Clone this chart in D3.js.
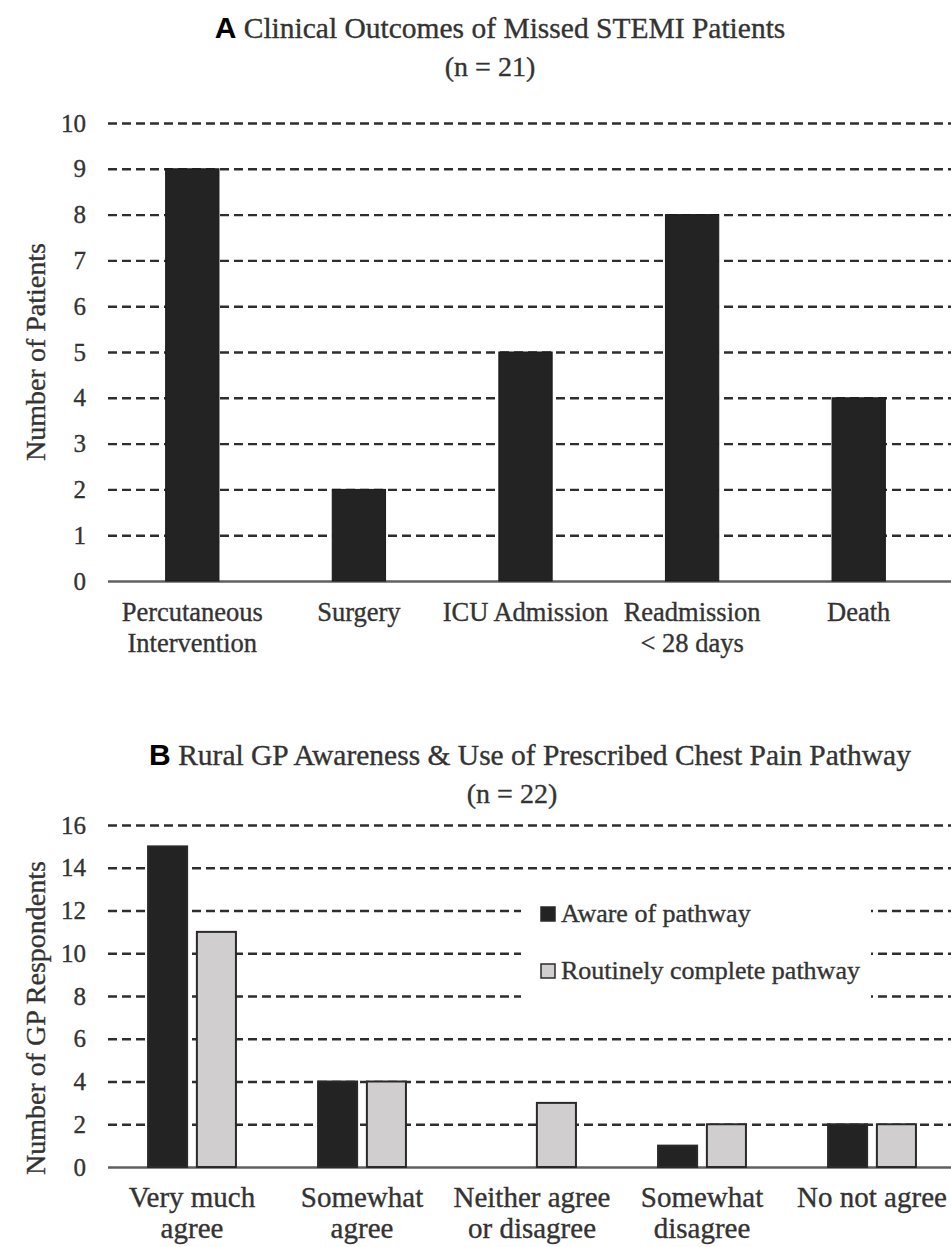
<!DOCTYPE html>
<html>
<head>
<meta charset="utf-8">
<script src="https://cdn.jsdelivr.net/npm/d3@7"></script>
<style>
  body { margin: 0; background: #fff; }
  text { font-family: "Liberation Serif", "Times New Roman", serif; fill: #333; stroke: #333; stroke-width: 0.35px; }
  .letter { font-family: "Liberation Sans", Arial, sans-serif; font-weight: bold; fill: #000; stroke: none; }
</style>
</head>
<body>
<div id="chart"></div>
<script>
// chart A data
var outcomeLabels = [["Percutaneous", "Intervention"], ["Surgery"], ["ICU Admission"], ["Readmission", "< 28 days"], ["Death"]];
var outcomeCounts = [9, 2, 5, 8, 4];
var patientTicks = [0, 1, 2, 3, 4, 5, 6, 7, 8, 9, 10];

// chart B data
var responseLabels = [["Very much", "agree"], ["Somewhat", "agree"], ["Neither agree", "or disagree"], ["Somewhat", "disagree"], ["No not agree"]];
var seriesNames = ["Aware of pathway", "Routinely complete pathway"];
var awareCounts = [15, 4, 0, 1, 2];
var routineCounts = [11, 4, 3, 2, 2];
var respondentTicks = [0, 2, 4, 6, 8, 10, 12, 14, 16];

var svgWidth = 951;
var svgHeight = 1247;
var darkFill = "#232323";
var lightFill = "#d0cece";

var svg = d3.select("#chart")
    .append("svg")
    .attr("width", svgWidth)
    .attr("height", svgHeight);

// draws dashed gridlines + tick labels, solid line at zero
function drawGrid(g, yScale, ticks) {
    var axis = d3.axisLeft(yScale)
        .tickValues(ticks)
        .tickSize(-(svgWidth - 108))
        .tickPadding(22)
        .tickFormat(d3.format("d"));

    var ax = g.append("g")
        .attr("transform", "translate(108,0)")
        .call(axis);
    ax.select(".domain").remove();
    ax.selectAll(".tick line")
        .attr("stroke", "#2e2e2e")
        .attr("stroke-width", 2.4)
        .attr("stroke-dasharray", d => d === 0 ? null : "9,5");
    ax.selectAll(".tick")
        .filter(d => d === 0)
        .select("line")
        .attr("stroke", "#606060")
        .attr("stroke-width", 2.5);
    ax.selectAll(".tick text")
        .style("font-family", '"Liberation Serif", "Times New Roman", serif')
        .style("font-size", "25px")
        .attr("fill", "#333");
    return ax;
}

function drawTitle(g, letter, title, cx, y) {
    var t = g.append("text")
        .attr("x", cx)
        .attr("y", y)
        .attr("text-anchor", "middle")
        .style("font-size", "29.5px");
    t.append("tspan").attr("class", "letter").style("font-size", "30px").text(letter);
    t.append("tspan").text(" " + title);
}

function drawXLabels(g, xScale, labels, y0, size, lineGap) {
    labels.forEach(function (lines, i) {
        var t = g.append("text")
            .attr("text-anchor", "middle")
            .style("font-size", size + "px");
        lines.forEach(function (line, j) {
            t.append("tspan")
                .attr("x", xScale(i) + xScale.bandwidth() / 2)
                .attr("y", y0 + j * lineGap)
                .text(line);
        });
    });
}

// ---------- Chart A ----------
var chartA = svg.append("g");

var xA = d3.scaleBand()
    .domain(d3.range(outcomeCounts.length))
    .range([109, 942])
    .paddingInner(0.68)
    .paddingOuter(0.34);

var yA = d3.scaleLinear()
    .domain([0, 10])
    .range([581, 123]);

drawTitle(chartA, "A", "Clinical Outcomes of Missed STEMI Patients", 500, 38);
chartA.append("text")
    .attr("x", 490)
    .attr("y", 76)
    .attr("text-anchor", "middle")
    .style("font-size", "28px")
    .text("(n = 21)");

drawGrid(chartA, yA, patientTicks);

chartA.selectAll("rect.bar")
    .data(outcomeCounts)
    .enter()
    .append("rect")
    .attr("class", "bar")
    .attr("x", (d, i) => xA(i))
    .attr("y", d => yA(d))
    .attr("width", xA.bandwidth())
    .attr("height", d => yA(0) - yA(d))
    .attr("fill", darkFill)
    .attr("stroke", "#1a1a1a")
    .attr("stroke-width", 1);

drawXLabels(chartA, xA, outcomeLabels, 621, 26.5, 31);

chartA.append("text")
    .attr("transform", "translate(45," + ((yA(0) + yA(10)) / 2) + ") rotate(-90)")
    .attr("text-anchor", "middle")
    .style("font-size", "28px")
    .text("Number of Patients");

// ---------- Chart B ----------
var chartB = svg.append("g");

var x0 = d3.scaleBand()
    .domain(d3.range(responseLabels.length))
    .range([107, 957])
    .paddingInner(0.483)
    .paddingOuter(0.2415);

var x1 = d3.scaleBand()
    .domain(seriesNames)
    .range([0, x0.bandwidth()])
    .paddingInner(0.2);

var yB = d3.scaleLinear()
    .domain([0, 16])
    .range([1167, 825]);

drawTitle(chartB, "B", "Rural GP Awareness & Use of Prescribed Chest Pain Pathway", 530, 765);
chartB.append("text")
    .attr("x", 512)
    .attr("y", 803)
    .attr("text-anchor", "middle")
    .style("font-size", "28px")
    .text("(n = 22)");

drawGrid(chartB, yB, respondentTicks);

var groups = responseLabels.map(function (lab, i) {
    return [
        { series: seriesNames[0], value: awareCounts[i] },
        { series: seriesNames[1], value: routineCounts[i] }
    ];
});

chartB.selectAll("g.group")
    .data(groups)
    .enter()
    .append("g")
    .attr("class", "group")
    .attr("transform", (d, i) => "translate(" + x0(i) + ",0)")
    .selectAll("rect")
    .data(d => d.filter(b => b.value > 0))
    .enter()
    .append("rect")
    .attr("x", d => x1(d.series))
    .attr("y", d => yB(d.value))
    .attr("width", x1.bandwidth())
    .attr("height", d => yB(0) - yB(d.value))
    .attr("fill", d => d.series === seriesNames[0] ? darkFill : lightFill)
    .attr("stroke", "#2a2a2a")
    .attr("stroke-width", 2);

drawXLabels(chartB, x0, responseLabels, 1207, 29, 31);

chartB.append("text")
    .attr("transform", "translate(45,1018) rotate(-90)")
    .attr("text-anchor", "middle")
    .style("font-size", "28px")
    .text("Number of GP Respondents");

// legend, white box over the gridlines
var legend = chartB.append("g");
legend.append("rect")
    .attr("x", 521)
    .attr("y", 882)
    .attr("width", 350)
    .attr("height", 140)
    .attr("fill", "#fff");

seriesNames.forEach(function (name, i) {
    var ly = 907 + i * 57;
    legend.append("rect")
        .attr("x", 541)
        .attr("y", ly)
        .attr("width", 14)
        .attr("height", 14)
        .attr("fill", i === 0 ? darkFill : lightFill)
        .attr("stroke", "#2a2a2a")
        .attr("stroke-width", 1.5);
    legend.append("text")
        .attr("x", 561)
        .attr("y", ly + 15)
        .style("font-size", "26px")
        .text(name);
});
</script>
</body>
</html>
